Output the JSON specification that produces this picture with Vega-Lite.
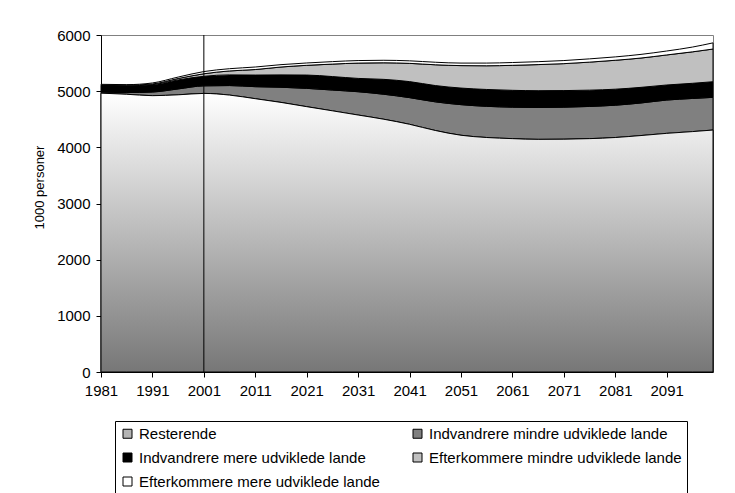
{
  "$schema": "https://vega.github.io/schema/vega-lite/v6.json",
  "width": 612,
  "height": 337,
  "autosize": {"type": "none"},
  "padding": {"left": 101, "top": 35, "right": 22, "bottom": 121},
  "background": "white",
  "config": {
    "font": "Liberation Sans",
    "view": {"stroke": "#808080", "strokeWidth": 1},
    "axis": {
      "domainColor": "black",
      "tickColor": "black",
      "labelColor": "black",
      "titleColor": "black",
      "labelFontSize": 15,
      "labelFont": "Liberation Sans",
      "titleFont": "Liberation Sans",
      "titleFontWeight": "normal",
      "grid": false,
      "tickSize": 5
    }
  },
  "datasets": {
    "befolkning": [
      {"year": 1981, "Resterende": 4965, "Indvandrere mindre udviklede lande": 20, "Indvandrere mere udviklede lande": 115, "Efterkommere mindre udviklede lande": 8, "Efterkommere mere udviklede lande": 14},
      {"year": 1986, "Resterende": 4945, "Indvandrere mindre udviklede lande": 30, "Indvandrere mere udviklede lande": 120, "Efterkommere mindre udviklede lande": 10, "Efterkommere mere udviklede lande": 11},
      {"year": 1991, "Resterende": 4920, "Indvandrere mindre udviklede lande": 65, "Indvandrere mere udviklede lande": 130, "Efterkommere mindre udviklede lande": 13, "Efterkommere mere udviklede lande": 18},
      {"year": 1996, "Resterende": 4935, "Indvandrere mindre udviklede lande": 105, "Indvandrere mere udviklede lande": 160, "Efterkommere mindre udviklede lande": 25, "Efterkommere mere udviklede lande": 26},
      {"year": 2001, "Resterende": 4960, "Indvandrere mindre udviklede lande": 135, "Indvandrere mere udviklede lande": 170, "Efterkommere mindre udviklede lande": 45, "Efterkommere mere udviklede lande": 39},
      {"year": 2006, "Resterende": 4930, "Indvandrere mindre udviklede lande": 170, "Indvandrere mere udviklede lande": 190, "Efterkommere mindre udviklede lande": 70, "Efterkommere mere udviklede lande": 40},
      {"year": 2011, "Resterende": 4866, "Indvandrere mindre udviklede lande": 214, "Indvandrere mere udviklede lande": 207, "Efterkommere mindre udviklede lande": 98, "Efterkommere mere udviklede lande": 45},
      {"year": 2016, "Resterende": 4800, "Indvandrere mindre udviklede lande": 270, "Indvandrere mere udviklede lande": 220, "Efterkommere mindre udviklede lande": 140, "Efterkommere mere udviklede lande": 42},
      {"year": 2021, "Resterende": 4724, "Indvandrere mindre udviklede lande": 326, "Indvandrere mere udviklede lande": 237, "Efterkommere mindre udviklede lande": 173, "Efterkommere mere udviklede lande": 42},
      {"year": 2026, "Resterende": 4650, "Indvandrere mindre udviklede lande": 370, "Indvandrere mere udviklede lande": 240, "Efterkommere mindre udviklede lande": 222, "Efterkommere mere udviklede lande": 44},
      {"year": 2031, "Resterende": 4575, "Indvandrere mindre udviklede lande": 415, "Indvandrere mere udviklede lande": 237, "Efterkommere mindre udviklede lande": 273, "Efterkommere mere udviklede lande": 45},
      {"year": 2036, "Resterende": 4500, "Indvandrere mindre udviklede lande": 445, "Indvandrere mere udviklede lande": 265, "Efterkommere mindre udviklede lande": 295, "Efterkommere mere udviklede lande": 45},
      {"year": 2041, "Resterende": 4410, "Indvandrere mindre udviklede lande": 475, "Indvandrere mere udviklede lande": 285, "Efterkommere mindre udviklede lande": 325, "Efterkommere mere udviklede lande": 45},
      {"year": 2046, "Resterende": 4300, "Indvandrere mindre udviklede lande": 510, "Indvandrere mere udviklede lande": 290, "Efterkommere mindre udviklede lande": 370, "Efterkommere mere udviklede lande": 45},
      {"year": 2051, "Resterende": 4215, "Indvandrere mindre udviklede lande": 545, "Indvandrere mere udviklede lande": 295, "Efterkommere mindre udviklede lande": 400, "Efterkommere mere udviklede lande": 45},
      {"year": 2056, "Resterende": 4175, "Indvandrere mindre udviklede lande": 555, "Indvandrere mere udviklede lande": 300, "Efterkommere mindre udviklede lande": 422, "Efterkommere mere udviklede lande": 48},
      {"year": 2061, "Resterende": 4155, "Indvandrere mindre udviklede lande": 560, "Indvandrere mere udviklede lande": 300, "Efterkommere mindre udviklede lande": 445, "Efterkommere mere udviklede lande": 50},
      {"year": 2066, "Resterende": 4142, "Indvandrere mindre udviklede lande": 568, "Indvandrere mere udviklede lande": 298, "Efterkommere mindre udviklede lande": 465, "Efterkommere mere udviklede lande": 52},
      {"year": 2071, "Resterende": 4145, "Indvandrere mindre udviklede lande": 570, "Indvandrere mere udviklede lande": 295, "Efterkommere mindre udviklede lande": 480, "Efterkommere mere udviklede lande": 55},
      {"year": 2076, "Resterende": 4155, "Indvandrere mindre udviklede lande": 573, "Indvandrere mere udviklede lande": 290, "Efterkommere mindre udviklede lande": 499, "Efterkommere mere udviklede lande": 58},
      {"year": 2081, "Resterende": 4175, "Indvandrere mindre udviklede lande": 575, "Indvandrere mere udviklede lande": 285, "Efterkommere mindre udviklede lande": 515, "Efterkommere mere udviklede lande": 60},
      {"year": 2086, "Resterende": 4210, "Indvandrere mindre udviklede lande": 580, "Indvandrere mere udviklede lande": 278, "Efterkommere mindre udviklede lande": 522, "Efterkommere mere udviklede lande": 65},
      {"year": 2091, "Resterende": 4249, "Indvandrere mindre udviklede lande": 593, "Indvandrere mere udviklede lande": 268, "Efterkommere mindre udviklede lande": 535, "Efterkommere mere udviklede lande": 70},
      {"year": 2096, "Resterende": 4280, "Indvandrere mindre udviklede lande": 590, "Indvandrere mere udviklede lande": 270, "Efterkommere mindre udviklede lande": 560, "Efterkommere mere udviklede lande": 85},
      {"year": 2100, "Resterende": 4308, "Indvandrere mindre udviklede lande": 582, "Indvandrere mere udviklede lande": 278, "Efterkommere mindre udviklede lande": 582, "Efterkommere mere udviklede lande": 110}
    ],
    "markering": [{"year": 2001}]
  },
  "layer": [
    {
      "data": {"name": "befolkning"},
      "transform": [
        {"fold": ["Resterende", "Indvandrere mindre udviklede lande", "Indvandrere mere udviklede lande", "Efterkommere mindre udviklede lande", "Efterkommere mere udviklede lande"], "as": ["serie", "personer"]},
        {"calculate": "indexof(['Resterende', 'Indvandrere mindre udviklede lande', 'Indvandrere mere udviklede lande', 'Efterkommere mindre udviklede lande', 'Efterkommere mere udviklede lande'], datum.serie)", "as": "k"}
      ],
      "mark": {"type": "area", "interpolate": "monotone", "stroke": "black", "strokeWidth": 1, "opacity": 1},
      "encoding": {
        "x": {
          "field": "year",
          "type": "quantitative",
          "scale": {"domain": [1981, 2100], "nice": false, "zero": false},
          "axis": {
            "title": null,
            "values": [1981, 1991, 2001, 2011, 2021, 2031, 2041, 2051, 2061, 2071, 2081, 2091],
            "format": "d",
            "labelPadding": 6,
            "labelFlush": false
          }
        },
        "y": {
          "field": "personer",
          "type": "quantitative",
          "stack": "zero",
          "scale": {"domain": [0, 6000], "nice": false},
          "axis": {
            "title": "1000 personer",
            "titleFontSize": 13,
            "titlePadding": 10,
            "titleY": 152,
            "values": [0, 1000, 2000, 3000, 4000, 5000, 6000],
            "format": "d",
            "labelPadding": 6
          }
        },
        "order": {"field": "k", "type": "quantitative"},
        "color": {
          "field": "serie",
          "type": "nominal",
          "scale": {
            "domain": ["Resterende", "Indvandrere mere udviklede lande", "Efterkommere mere udviklede lande", "Indvandrere mindre udviklede lande", "Efterkommere mindre udviklede lande"],
            "range": ["#b4b4b4", "#000000", "#ffffff", "#808080", "#c0c0c0"]
          },
          "legend": {
            "title": null,
            "orient": "none",
            "legendX": 14,
            "legendY": 386,
            "columns": 2,
            "strokeColor": "black",
            "padding": 5,
            "symbolType": "square",
            "symbolSize": 81,
            "symbolStrokeColor": "black",
            "symbolStrokeWidth": 1,
            "symbolOpacity": 1,
            "labelFontSize": 15,
            "labelColor": "black",
            "labelLimit": 400,
            "labelOffset": 4,
            "rowPadding": 8,
            "columnPadding": 30
          }
        }
      }
    },
    {
      "data": {"name": "befolkning"},
      "mark": {
        "type": "area",
        "interpolate": "monotone",
        "stroke": "black",
        "strokeWidth": 1,
        "fill": {"gradient": "linear", "x1": 0, "y1": 0, "x2": 0, "y2": 1, "stops": [{"offset": 0, "color": "#ffffff"}, {"offset": 1, "color": "#777777"}]}
      },
      "encoding": {
        "x": {"field": "year", "type": "quantitative"},
        "y": {"field": "Resterende", "type": "quantitative"}
      }
    },
    {
      "data": {"name": "markering"},
      "mark": {"type": "rule", "color": "black", "strokeWidth": 1},
      "encoding": {
        "x": {"field": "year", "type": "quantitative"}
      }
    }
  ]
}
